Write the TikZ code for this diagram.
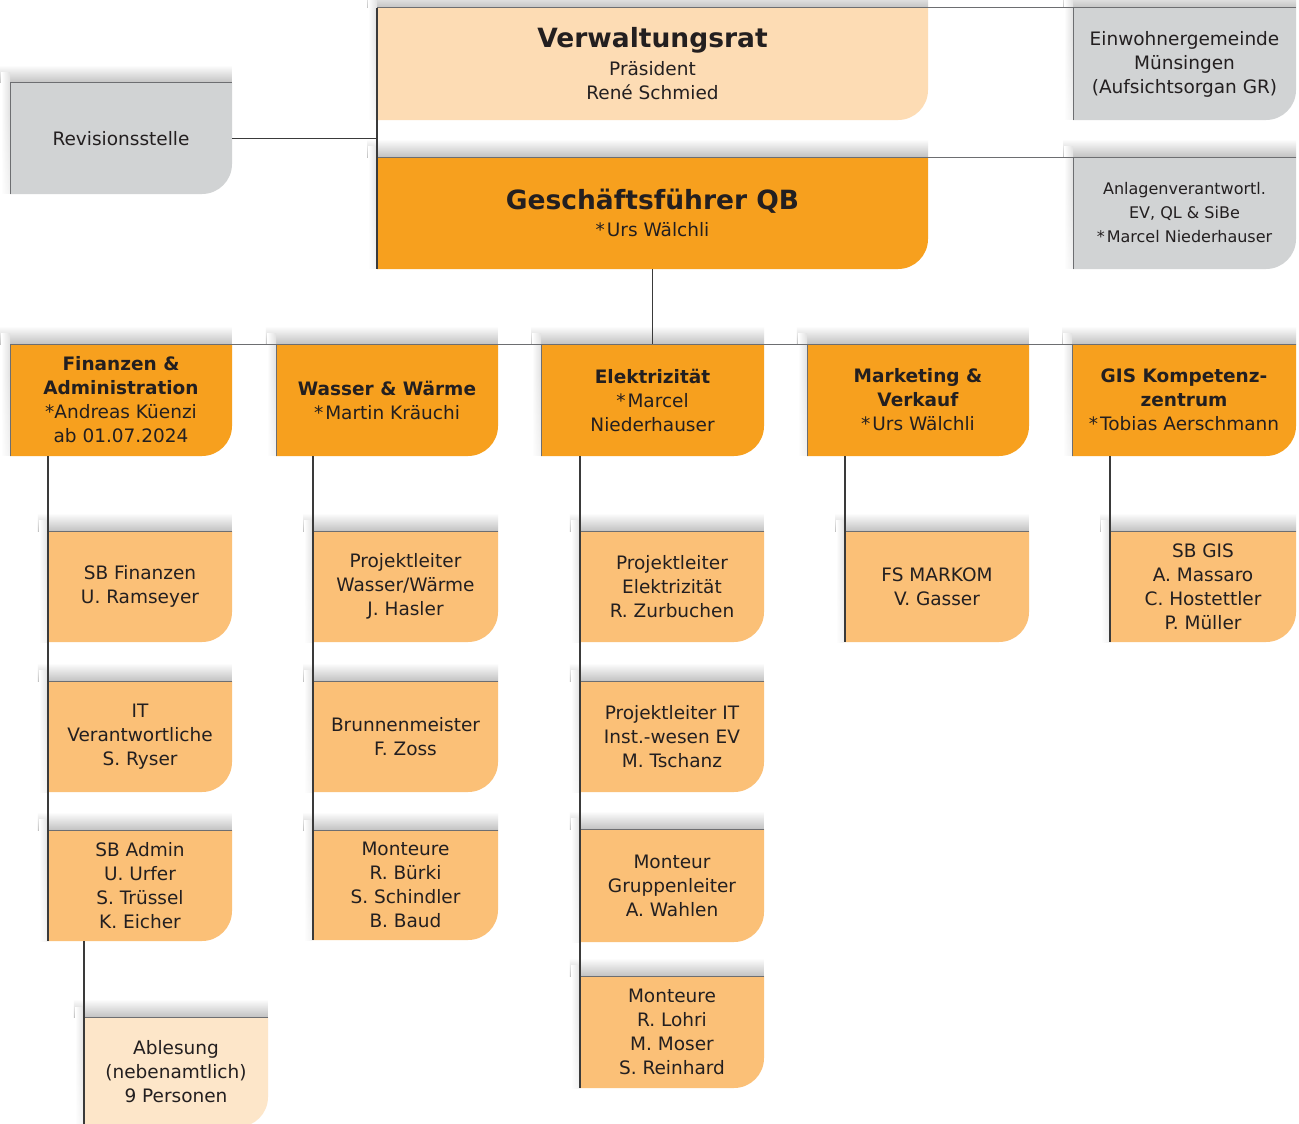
\documentclass[tikz,border=0pt]{standalone}
\usepackage{fontspec}
\usetikzlibrary{fadings}
\setmainfont{DejaVu Sans}
\definecolor{vrfill}{HTML}{FDDCB4}
\definecolor{qorange}{HTML}{F7A01E}
\definecolor{subfill}{HTML}{FBC077}
\definecolor{ablfill}{HTML}{FDE6C9}
\definecolor{grayfill}{HTML}{D1D3D4}
\definecolor{txt}{HTML}{231F20}
\definecolor{linegray}{HTML}{6D6E71}
\definecolor{linedark}{HTML}{3A3A3A}
\newcommand\stern{*\kern2pt}
\newcommand\titlef{\fontsize{26.5}{28}\selectfont\bfseries}
\newcommand\smf{\fontsize{16}{24}\selectfont}
\pgfdeclarehorizontalshading{hfadeshade}{100bp}{color(0bp)=(black); color(12bp)=(white); color(85bp)=(white); color(100bp)=(black)}
\pgfdeclarefading{hfade}{\pgfuseshading{hfadeshade}}
\pgfdeclareverticalshading{vfadeshade}{100bp}{color(0bp)=(black); color(60bp)=(white); color(90bp)=(white); color(100bp)=(black)}
\pgfdeclarefading{vfade}{\pgfuseshading{vfadeshade}}
\tikzset{
  edge/.style={draw=linegray, line width=1pt},
  conn/.style={draw=linedark, line width=1.1pt},
  boxtext/.style={align=center, inner sep=0pt, outer sep=0pt, text=txt,
    font=\fontsize{18.5}{24}\selectfont},
}
% name, left, top, right, bottom, fill, text
\newcommand\orgbox[7]{%
  \shade[top color=white, bottom color=black!24, path fading=hfade] ({#2-10},{#3-18}) rectangle ({#4},{#3});
  \shade[left color=white, right color=black!12, path fading=vfade] ({#2-9},{#3-10}) rectangle ({#2},{#5});
  \fill[#6] (#2,#3) -- (#4,#3) -- (#4,{#5-30}) .. controls (#4,{#5-13.4}) and ({#4-13.4},#5) .. ({#4-30},#5) -- (#2,#5) -- cycle;
  \node[boxtext, minimum width={(#4-#2)*1pt}, minimum height={(#5-#3)*1pt}] (#1) at ({(#2+#4)/2},{(#3+#5)/2}) {#7};
  \draw[edge] (#1.south west) -- (#1.north west) -- (#1.north east);
}
\begin{document}
\begin{tikzpicture}[x=1pt,y=-1pt]
\fill[white] (0,0) rectangle (1299,1124);
\useasboundingbox (0,0) rectangle (1299,1124);

% top level
\orgbox{vr}{377}{8}{928}{120}{vrfill}{{\titlef Verwaltungsrat}\\[4pt]Präsident\\René Schmied}
\orgbox{ew}{1073}{8}{1296}{120}{grayfill}{Einwohnergemeinde\\Münsingen\\(Aufsichtsorgan GR)}
\orgbox{rev}{10}{83}{232}{194}{grayfill}{Revisionsstelle}
\orgbox{gf}{377}{157}{928}{269}{qorange}{{\titlef Geschäftsführer QB}\\[3pt]\stern Urs Wälchli}
\orgbox{av}{1073}{157}{1296}{269}{grayfill}{\smf Anlagenverantwortl.\\\smf EV, QL \& SiBe\\\smf\stern Marcel Niederhauser}

% departments
\orgbox{fin}{10}{344}{232}{456}{qorange}{\textbf{Finanzen \&}\\\textbf{Administration}\\{*}Andreas Küenzi\\ab 01.07.2024}
\orgbox{ww}{276}{344}{498}{456}{qorange}{\textbf{Wasser \& Wärme}\\\stern Martin Kräuchi}
\orgbox{el}{541}{344}{764}{456}{qorange}{\textbf{Elektrizität}\\\stern Marcel\\Niederhauser}
\orgbox{mv}{807}{344}{1029}{456}{qorange}{\textbf{Marketing \&}\\\textbf{Verkauf}\\\stern Urs Wälchli}
\orgbox{gis}{1072}{344}{1296}{456}{qorange}{\textbf{GIS Kompetenz-}\\\textbf{zentrum}\\\stern Tobias Aerschmann}

% column 1
\orgbox{f1}{48}{531}{232}{642}{subfill}{SB Finanzen\\U. Ramseyer}
\orgbox{f2}{48}{681}{232}{792}{subfill}{IT\\Verantwortliche\\S. Ryser}
\orgbox{f3}{48}{830}{232}{941}{subfill}{SB Admin\\U. Urfer\\S. Trüssel\\K. Eicher}
\orgbox{abl}{84}{1017}{268}{1127}{ablfill}{Ablesung\\(nebenamtlich)\\9 Personen}
% column 2
\orgbox{w1}{313}{531}{498}{642}{subfill}{Projektleiter\\Wasser/Wärme\\J. Hasler}
\orgbox{w2}{313}{681}{498}{792}{subfill}{Brunnenmeister\\F. Zoss}
\orgbox{w3}{313}{830}{498}{940}{subfill}{Monteure\\R. Bürki\\S. Schindler\\B. Baud}
% column 3
\orgbox{e1}{580}{531}{764}{642}{subfill}{Projektleiter\\Elektrizität\\R. Zurbuchen}
\orgbox{e2}{580}{681}{764}{792}{subfill}{Projektleiter IT\\Inst.-wesen EV\\M. Tschanz}
\orgbox{e3}{580}{829}{764}{942}{subfill}{Monteur\\Gruppenleiter\\A. Wahlen}
\orgbox{e4}{580}{976}{764}{1088}{subfill}{Monteure\\R. Lohri\\M. Moser\\S. Reinhard}
% column 4 and 5
\orgbox{m1}{845}{531}{1029}{642}{subfill}{FS MARKOM\\V. Gasser}
\orgbox{g1}{1110}{531}{1296}{642}{subfill}{SB GIS\\A. Massaro\\C. Hostettler\\P. Müller}

% connectors
\draw[edge] (vr.north east) -- (ew.north west);
\draw[edge] (gf.north east) -- (av.north west);
\draw[edge] (fin.north west) -- (gis.north east);
\draw[conn] (rev.east) -- (rev.east -| vr.west);
\draw[conn] (vr.north west) -- (gf.south west);
\draw[conn] (gf.south) -- (gf.south |- fin.north);
\draw[conn] (fin.south -| f1.west) -- (f3.south west);
\draw[conn] (f3.south -| abl.west) -- (abl.south west);
\draw[conn] (ww.south -| w1.west) -- (w3.south west);
\draw[conn] (el.south -| e1.west) -- (e4.south west);
\draw[conn] (mv.south -| m1.west) -- (m1.south west);
\draw[conn] (gis.south -| g1.west) -- (g1.south west);
\end{tikzpicture}
\end{document}
